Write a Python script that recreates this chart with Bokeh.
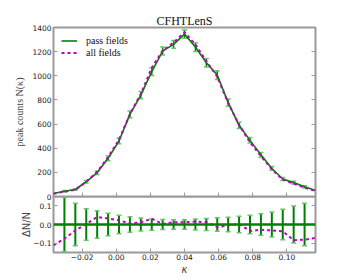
from bokeh.plotting import figure
from bokeh.layouts import column
from bokeh.models import (Range1d, FixedTicker, LinearAxis, CustomJSTickFormatter,
                          Legend, LegendItem, ColumnDataSource, Span)
from bokeh.embed import file_html
from bokeh.resources import INLINE

# ---------------- data ----------------
kappa = [-0.0368, -0.0304, -0.0240, -0.0176, -0.0112, -0.0048, 0.0016, 0.0080,
         0.0144, 0.0208, 0.0272, 0.0336, 0.0400, 0.0464, 0.0528, 0.0592,
         0.0656, 0.0720, 0.0784, 0.0848, 0.0912, 0.0976, 0.1040, 0.1104, 0.1168]
pass_counts = [25, 44, 58, 122, 197, 316, 460, 680, 840, 1035, 1205, 1260, 1345,
               1238, 1108, 1006, 778, 590, 465, 345, 232, 145, 115, 80, 50]
all_counts = [22, 41, 56, 122, 205, 326, 471, 683, 850, 1066, 1209, 1275, 1361,
              1258, 1121, 992, 775, 592, 449, 335, 225, 140, 105, 74, 46]
delta_all = [-0.111, -0.076, -0.032, 0.003, 0.040, 0.032, 0.023, 0.005, 0.012,
             0.030, 0.003, 0.012, 0.012, 0.016, 0.012, -0.014, -0.004, 0.003,
             -0.035, -0.028, -0.032, -0.037, -0.084, -0.081, -0.072]
err_kappa = kappa[1:24]
rel_err = [0.145, 0.114, 0.084, 0.073, 0.060, 0.049, 0.041, 0.035, 0.031, 0.027,
           0.025, 0.025, 0.029, 0.032, 0.036, 0.039, 0.044, 0.049, 0.058, 0.067,
           0.082, 0.099, 0.114]
x_ticks = [-0.02, 0.0, 0.02, 0.04, 0.06, 0.08, 0.10]
y_ticks_main = [0, 200, 400, 600, 800, 1000, 1200, 1400]
y_ticks_ratio = [-0.1, 0.0, 0.1]

GREEN = "#008000"
CAP = "#6cc46c"
MAG = "#c000c0"
FRAME = "#9a9a9a"
SERIF = "Liberation Serif"
SANS = "DejaVu Sans"

# --------------- derived sources ---------------
pass_err = [pass_counts[i + 1] * r for i, r in enumerate(rel_err)]
main_err = ColumnDataSource(dict(
    x=err_kappa,
    lo=[pass_counts[i + 1] - e for i, e in enumerate(pass_err)],
    hi=[pass_counts[i + 1] + e for i, e in enumerate(pass_err)],
))
ratio_err = ColumnDataSource(dict(
    x=err_kappa, lo=[-r for r in rel_err], hi=list(rel_err)))

empty_fmt = CustomJSTickFormatter(code="return ''")


def style_axis(ax, ticks, labels=True):
    ax.ticker = FixedTicker(ticks=ticks)
    ax.axis_line_color = None
    ax.major_tick_in = 4
    ax.major_tick_out = 0
    ax.major_tick_line_color = FRAME
    ax.major_tick_line_width = 1
    ax.minor_tick_line_color = None
    ax.major_label_text_font = SANS
    ax.major_label_text_font_size = "7.5px"
    ax.major_label_text_color = "#222222"
    ax.major_label_standoff = 2
    if not labels:
        ax.formatter = empty_fmt
        ax.major_label_standoff = 0
        ax.major_label_text_font_size = "0px"


GAP = 6  # extra room under the upper panel so its "0" label is not clipped

# --------------- main panel ---------------
x_range = Range1d(-0.0368, 0.1168)
p1 = figure(width=340, height=196 + GAP, x_range=x_range, y_range=Range1d(0, 1400),
            output_backend="svg", toolbar_location=None,
            min_border_left=53, min_border_right=25, min_border_top=27,
            min_border_bottom=GAP)
p1.styles = {"position": "relative", "z-index": "5"}
p1.border_fill_alpha = 0
p1.title.text = "CFHTLenS"
p1.title.align = "center"
p1.title.text_font = SERIF
p1.title.text_font_size = "12px"
p1.title.text_font_style = "normal"
p1.title.text_color = "#111111"
p1.title.standoff = 0
p1.title.offset = 0
p1.grid.visible = False
p1.outline_line_color = FRAME
p1.outline_line_width = 2
p1.background_fill_color = "white"

style_axis(p1.yaxis[0], y_ticks_main)
p1.yaxis[0].axis_label = "peak counts N(κ)"
p1.yaxis[0].axis_label_text_font = SERIF
p1.yaxis[0].axis_label_text_font_size = "10px"
p1.yaxis[0].axis_label_text_font_style = "normal"
p1.yaxis[0].axis_label_standoff = 4
style_axis(p1.xaxis[0], x_ticks, labels=False)
r_ax1 = LinearAxis()
style_axis(r_ax1, y_ticks_main, labels=False)
p1.add_layout(r_ax1, "right")

p1.segment(x0="x", y0="lo", x1="x", y1="hi", source=main_err,
           line_color=GREEN, line_width=1.5)
p1.scatter(x="x", y="lo", source=main_err, marker="dash", size=5,
           line_color=CAP, line_width=1.5)
p1.scatter(x="x", y="hi", source=main_err, marker="dash", size=5,
           line_color=CAP, line_width=1.5)
g_pass = p1.line(kappa, pass_counts, line_color=GREEN, line_width=1.6)
g_all = p1.line(kappa, all_counts, line_color=MAG, line_width=2, line_dash="3 3")

leg = Legend(items=[LegendItem(label="pass fields", renderers=[g_pass]),
                    LegendItem(label="all fields", renderers=[g_all])],
             location="top_left")
leg.label_text_font = SERIF
leg.label_text_font_size = "10px"
leg.label_text_color = "#111111"
leg.glyph_width = 16
leg.glyph_height = 11
leg.label_height = 11
leg.label_standoff = 9
leg.spacing = 1
leg.margin = 8
leg.padding = 6
leg.border_line_color = None
leg.background_fill_alpha = 0
p1.add_layout(leg)

# --------------- ratio panel ---------------
p2 = figure(width=340, height=84, x_range=x_range, y_range=Range1d(-0.15, 0.15),
            output_backend="svg", toolbar_location=None,
            min_border_left=53, min_border_right=25, min_border_top=0,
            min_border_bottom=28)
p2.margin = (-GAP, 0, 0, 0)
p2.styles = {"position": "relative", "z-index": "1"}
p2.grid.visible = False
p2.outline_line_color = FRAME
p2.outline_line_width = 2

style_axis(p2.xaxis[0], x_ticks)
p2.xaxis[0].major_label_standoff = 1
p2.xaxis[0].formatter = CustomJSTickFormatter(
    code="return (tick < -1e-9 ? '\u2212' : '') + Math.abs(tick).toFixed(2);")
p2.xaxis[0].axis_label = "κ"
p2.xaxis[0].axis_label_text_font = SANS
p2.xaxis[0].axis_label_text_font_size = "10px"
p2.xaxis[0].axis_label_text_font_style = "italic"
p2.xaxis[0].axis_label_standoff = 1
style_axis(p2.yaxis[0], y_ticks_ratio)
p2.yaxis[0].formatter = CustomJSTickFormatter(
    code="return (tick < -1e-9 ? '\u2212' : '') + Math.abs(tick).toFixed(1);")
p2.yaxis[0].axis_label = "ΔN/N"
p2.yaxis[0].axis_label_text_font = SANS
p2.yaxis[0].axis_label_text_font_size = "10px"
p2.yaxis[0].axis_label_text_font_style = "normal"
p2.yaxis[0].axis_label_standoff = -2
r_ax2 = LinearAxis()
style_axis(r_ax2, y_ticks_ratio, labels=False)
p2.add_layout(r_ax2, "right")

p2.segment(x0="x", y0="lo", x1="x", y1="hi", source=ratio_err,
           line_color=GREEN, line_width=2)
p2.scatter(x="x", y="lo", source=ratio_err, marker="dash", size=5,
           line_color=CAP, line_width=1.5)
p2.scatter(x="x", y="hi", source=ratio_err, marker="dash", size=5,
           line_color=CAP, line_width=1.5)
p2.add_layout(Span(location=0, dimension="width", line_color=GREEN, line_width=2.5))
p2.line(kappa, delta_all, line_color=MAG, line_width=2, line_dash="3 3")

layout = column(p1, p2, spacing=0)
open("out.html", "w").write(file_html(layout, INLINE))
